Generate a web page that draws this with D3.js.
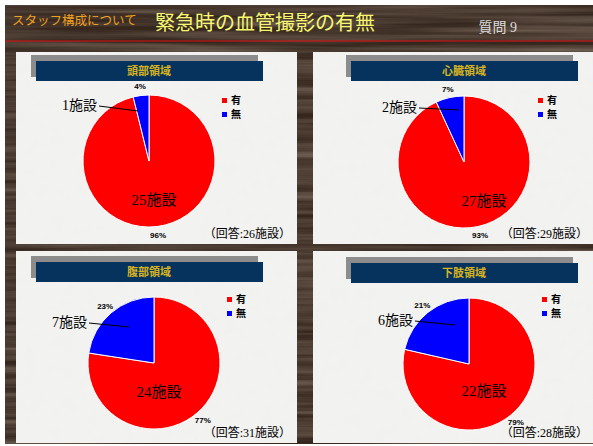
<!DOCTYPE html>
<html>
<head>
<meta charset="utf-8">
<script src="https://cdn.jsdelivr.net/npm/d3@7"></script>
<style>
  body { margin: 0; background: #fff; }
  svg { display: block; }
</style>
</head>
<body>
<div id="chart"></div>
<script>
// data
var regions = ["頭部領域", "心臓領域", "腹部領域", "下肢領域"];
var categories = ["有", "無"];
var yesCounts = [25, 27, 24, 22];
var noCounts = [1, 2, 7, 6];
var totals = [26, 29, 31, 28];
var colors = ["#ff0000", "#0000ff"];

// layout per panel (panel box, title bar x, pie centre, label offsets)
var layout = [
  { px: 16,  py: 52,  tx: 36,  ty: 61,  cx: 149, cy: 161, lx: 222, big: [5, 39],  small: [-52, -56], tip: [-11, -50] },
  { px: 313, py: 52,  tx: 351, ty: 61,  cx: 464, cy: 162, lx: 538, big: [20, 39], small: [-47, -55], tip: [-5, -52] },
  { px: 16,  py: 251, tx: 36,  ty: 262, cx: 154, cy: 363, lx: 227, big: [5, 29],  small: [-67, -41], tip: [-25, -36] },
  { px: 313, py: 251, tx: 351, ty: 263, cx: 469, cy: 364, lx: 542, big: [15, 27], small: [-56, -44], tip: [-14, -39] }
];

var svgWidth = 593;
var svgHeight = 446;
var radius = 66;

var svg = d3.select("#chart")
  .append("svg")
  .attr("width", svgWidth)
  .attr("height", svgHeight);

var defs = svg.append("defs");

// wood texture
var wood = defs.append("filter").attr("id", "wood").attr("x", 0).attr("y", 0).attr("width", "100%").attr("height", "100%");
wood.append("feTurbulence").attr("type", "fractalNoise").attr("baseFrequency", "0.004 0.15").attr("numOctaves", 3).attr("seed", 4);
wood.append("feColorMatrix").attr("type", "matrix")
  .attr("values", "0 0 0 0 0.36  0 0 0 0 0.27  0 0 0 0 0.21  0.9 0 0 0 -0.25");
wood.append("feComposite").attr("in2", "SourceGraphic").attr("operator", "in");

// paper texture
var paper = defs.append("filter").attr("id", "paper").attr("x", 0).attr("y", 0).attr("width", "100%").attr("height", "100%");
paper.append("feTurbulence").attr("type", "fractalNoise").attr("baseFrequency", "0.08").attr("numOctaves", 2).attr("seed", 2);
paper.append("feColorMatrix").attr("type", "matrix")
  .attr("values", "0 0 0 0 0.84  0 0 0 0 0.84  0 0 0 0 0.82  0.45 0 0 0 -0.2");
paper.append("feComposite").attr("in2", "SourceGraphic").attr("operator", "in");

// background
svg.append("rect").attr("x", 5).attr("y", 5).attr("width", 588).attr("height", 439).attr("fill", "#35271e");
svg.append("rect").attr("x", 5).attr("y", 5).attr("width", 588).attr("height", 439).attr("fill", "#35271e").attr("filter", "url(#wood)");

// header
svg.append("text")
  .attr("x", 12).attr("y", 25)
  .attr("font-family", "'Noto Sans CJK JP', sans-serif")
  .attr("font-size", 12.5)
  .attr("fill", "#f0a020")
  .text("スタッフ構成について");

svg.append("text")
  .attr("x", 265).attr("y", 30)
  .attr("text-anchor", "middle")
  .attr("font-family", "'Noto Sans CJK JP', sans-serif")
  .attr("font-size", 20)
  .attr("fill", "#f8f870")
  .text("緊急時の血管撮影の有無");

svg.append("text")
  .attr("x", 517).attr("y", 32)
  .attr("text-anchor", "end")
  .attr("font-family", "'Liberation Serif', 'Noto Sans CJK JP', serif")
  .attr("font-size", 14)
  .attr("fill", "#dcdcdc")
  .text("質問 9");

svg.append("line")
  .attr("x1", 5).attr("x2", 593)
  .attr("y1", 41).attr("y2", 41)
  .attr("stroke", "#e01010")
  .attr("stroke-width", 1);

var pie = d3.pie().sort(null).value(d => d);
var arc = d3.arc().innerRadius(0).outerRadius(radius);
var pctArc = d3.arc().innerRadius(radius + 9).outerRadius(radius + 9);

regions.forEach(function(name, i) {
  var L = layout[i];
  var g = svg.append("g");
  var values = [yesCounts[i], noCounts[i]];
  var sum = d3.sum(values);

  // panel
  g.append("rect").attr("x", L.px).attr("y", L.py).attr("width", 281).attr("height", 192).attr("fill", "#f2f2f0");
  g.append("rect").attr("x", L.px).attr("y", L.py).attr("width", 281).attr("height", 192).attr("fill", "#f2f2f0").attr("filter", "url(#paper)");

  // title bar with shadow
  g.append("rect").attr("x", L.tx - 5).attr("y", L.ty - 6).attr("width", 227).attr("height", 22).attr("fill", "#8c8c8c");
  g.append("rect").attr("x", L.tx).attr("y", L.ty).attr("width", 227).attr("height", 20).attr("fill", "#06325e");
  g.append("text")
    .attr("x", L.tx + 113).attr("y", L.ty + 14)
    .attr("text-anchor", "middle")
    .attr("font-family", "'Noto Sans CJK JP', sans-serif")
    .attr("font-size", 11)
    .attr("font-weight", "bold")
    .attr("fill", "#d8b420")
    .text(name);

  // pie
  var pg = g.append("g").attr("transform", `translate(${L.cx}, ${L.cy})`);
  var arcs = pie(values);

  pg.selectAll("path")
    .data(arcs)
    .enter()
    .append("path")
    .attr("d", arc)
    .attr("fill", (d, j) => colors[j])
    .attr("stroke", "#fff")
    .attr("stroke-width", 1);

  // percent labels
  pg.selectAll(".pct")
    .data(arcs)
    .enter()
    .append("text")
    .attr("class", "pct")
    .attr("transform", d => `translate(${pctArc.centroid(d)})`)
    .attr("dy", "0.35em")
    .attr("text-anchor", "middle")
    .attr("font-family", "'Liberation Sans', sans-serif")
    .attr("font-size", 8)
    .attr("font-weight", "bold")
    .attr("fill", "#000")
    .text(d => Math.round(d.data / sum * 100) + "%");

  // count labels
  pg.append("text")
    .attr("x", L.big[0]).attr("y", L.big[1] + 5)
    .attr("text-anchor", "middle")
    .attr("font-family", "'Liberation Serif', 'Noto Sans CJK JP', serif")
    .attr("font-size", 15)
    .attr("fill", "#000")
    .text(yesCounts[i] + "施設");

  pg.append("text")
    .attr("x", L.small[0]).attr("y", L.small[1] + 5)
    .attr("text-anchor", "end")
    .attr("font-family", "'Liberation Serif', 'Noto Sans CJK JP', serif")
    .attr("font-size", 14)
    .attr("fill", "#000")
    .text(noCounts[i] + "施設");

  pg.append("line")
    .attr("x1", L.small[0] + 2).attr("y1", L.small[1] + 1)
    .attr("x2", L.tip[0]).attr("y2", L.tip[1])
    .attr("stroke", "#000")
    .attr("stroke-width", 1);

  // legend
  var lg = g.append("g").attr("transform", `translate(${L.lx}, ${L.py + 46})`);
  categories.forEach(function(c, j) {
    lg.append("rect").attr("x", 0).attr("y", j * 14).attr("width", 5).attr("height", 5).attr("fill", colors[j]);
    lg.append("text")
      .attr("x", 9).attr("y", j * 14 + 6)
      .attr("font-family", "'Noto Sans CJK JP', sans-serif")
      .attr("font-size", 10)
      .attr("font-weight", "bold")
      .attr("fill", "#000")
      .text(c);
  });

  // answered count
  g.append("text")
    .attr("x", L.px + 275).attr("y", L.py + 186)
    .attr("text-anchor", "end")
    .attr("font-family", "'Liberation Serif', 'Noto Sans CJK JP', serif")
    .attr("font-size", 12)
    .attr("fill", "#000")
    .text("（回答:" + totals[i] + "施設）");
});
</script>
</body>
</html>
